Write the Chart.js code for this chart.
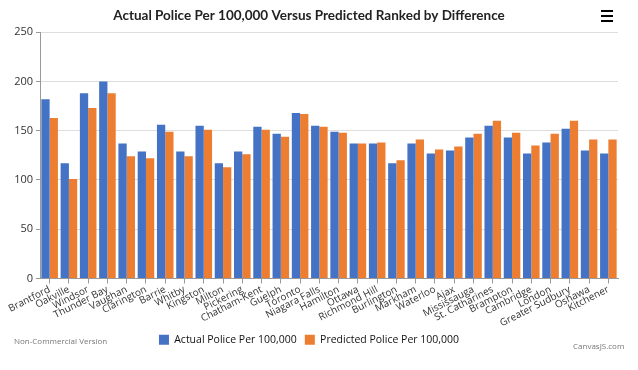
<!DOCTYPE html>
<html>
<head>
<meta charset="utf-8">
<script src="https://cdn.jsdelivr.net/npm/chart.js@4"></script>
<style>
  body { margin: 0; background: #fff; }
  #wrap { position: relative; width: 638px; height: 370px; }
  .note { position: absolute; font-family: "Open Sans", sans-serif; font-size: 8px; color: #777; }
</style>
</head>
<body>
<div id="wrap">
  <canvas id="chart" width="638" height="370"></canvas>
  <div class="note" style="left:14px; top:335px;">Non-Commercial Version</div>
  <div class="note" style="left:573px; top:340px;">CanvasJS.com</div>
</div>
<script>
// City names, ranked by difference
const cities = ['Brantford', 'Oakville', 'Windsor', 'Thunder Bay', 'Vaughan', 'Clarington', 'Barrie',
  'Whitby', 'Kingston', 'Milton', 'Pickering', 'Chatham-Kent', 'Guelph', 'Toronto', 'Niagara Falls',
  'Hamilton', 'Ottawa', 'Richmond Hill', 'Burlington', 'Markham', 'Waterloo', 'Ajax', 'Mississauga',
  'St. Catharines', 'Brampton', 'Cambridge', 'London', 'Greater Sudbury', 'Oshawa', 'Kitchener'];

const actual = [182, 117, 188, 200, 137, 129, 156, 129, 155, 117, 129, 154, 147, 168, 155,
  149, 137, 137, 117, 137, 127, 130, 143, 155, 143, 127, 138, 152, 130, 127];

const predicted = [163, 101, 173, 188, 124, 122, 149, 124, 151, 113, 126, 151, 144, 167, 154,
  148, 137, 138, 120, 141, 131, 134, 147, 160, 148, 135, 147, 160, 141, 141];

const yTicks = [0, 50, 100, 150, 200, 250];

// Small menu icon in the top right corner
const menuIcon = {
  id: 'menuIcon',
  afterDraw(chart) {
    const ctx = chart.ctx;
    ctx.save();
    ctx.fillStyle = '#000';
    [10, 15, 20].forEach(y => ctx.fillRect(601, y, 12, 2));
    ctx.restore();
  }
};

new Chart(document.getElementById('chart'), {
  type: 'bar',
  data: {
    labels: cities,
    datasets: [{
      label: 'Actual Police Per 100,000',
      data: actual,
      backgroundColor: '#4472C4',
      borderWidth: 0,
      categoryPercentage: 0.86,
      barPercentage: 1
    }, {
      label: 'Predicted Police Per 100,000',
      data: predicted,
      backgroundColor: '#ED7D31',
      borderWidth: 0,
      categoryPercentage: 0.86,
      barPercentage: 1
    }]
  },
  options: {
    responsive: false,
    animation: false,
    layout: { padding: { left: 0, right: 20, top: 0, bottom: 15 } },
    plugins: {
      title: {
        display: true,
        text: 'Actual Police Per 100,000 Versus Predicted Ranked by Difference',
        color: '#222',
        font: { family: 'Lato', size: 13.5, weight: 'bold' },
        padding: { top: 8, bottom: 8 }
      },
      legend: {
        position: 'bottom',
        labels: {
          color: '#111',
          font: { family: 'Open Sans', size: 10.5 },
          boxWidth: 10,
          boxHeight: 10,
          padding: 8
        }
      },
      tooltip: { enabled: false }
    },
    scales: {
      x: {
        grid: { display: true, offset: false, drawOnChartArea: false, tickLength: 5, color: '#999' },
        border: { color: '#999' },
        ticks: {
          color: '#333',
          font: { family: 'Open Sans', size: 10 },
          minRotation: 27,
          maxRotation: 27,
          autoSkip: false,
          padding: 0
        },
        afterFit(scale) { scale.height = 48; }
      },
      y: {
        min: 0,
        max: 250,
        afterBuildTicks(scale) { scale.ticks = yTicks.map(v => ({ value: v })); },
        grid: { color: '#ddd', tickLength: 4, tickColor: '#999' },
        border: { color: '#999' },
        ticks: { color: '#333', font: { family: 'Open Sans', size: 11 }, padding: 3 },
        afterFit(scale) { scale.width = 40; }
      }
    }
  },
  plugins: [menuIcon]
});
</script>
</body>
</html>
